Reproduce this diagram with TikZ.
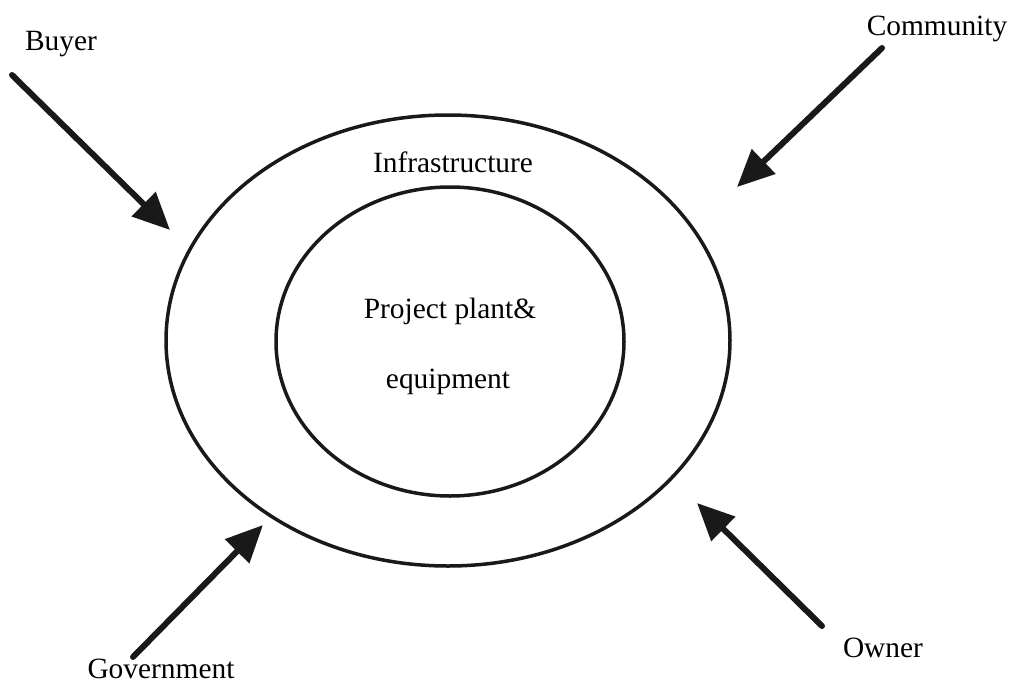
\documentclass[tikz,border=0pt]{standalone}
\usepackage{fontspec}
\setmainfont{Liberation Serif}
\usetikzlibrary{arrows.meta}
\begin{document}
\begin{tikzpicture}[x=1pt,y=-1pt,
  ring/.style={draw=black!90, line width=3.5pt},
  label/.style={anchor=base, inner sep=0pt, font=\fontsize{29.4}{35}\selectfont},
  influence/.style={draw=black!90, line width=6pt, line cap=round,
    -{Triangle[length=37pt,width=33pt]}}]
  \useasboundingbox (0,0) rectangle (1013,683);

  % nested zones
  \draw[ring] (448,340.5) ellipse [x radius=282, y radius=225.5];
  \draw[ring] (450,341.5) ellipse [x radius=174, y radius=154.5];

  \node[label] (infra) at (453,172) {Infrastructure};
  \node[label] (plant1) at (450,318) {Project plant\&};
  \node[label] (plant2) at (448,388) {equipment};

  % stakeholders
  \node[label] (buyer) at (61,50) {Buyer};
  \node[label] (community) at (937,35) {Community};
  \node[label] (government) at (161,678) {Government};
  \node[label] (owner) at (883,657) {Owner};

  \coordinate (buyerTail) at (12,75);
  \coordinate (buyerTip) at (170,230);
  \coordinate (communityTail) at (882,48);
  \coordinate (communityTip) at (737,187);
  \coordinate (governmentTail) at (133,657);
  \coordinate (governmentTip) at (263,525);
  \coordinate (ownerTail) at (822,626);
  \coordinate (ownerTip) at (697,503);

  \draw[influence] (buyerTail) -- (buyerTip);
  \draw[influence] (communityTail) -- (communityTip);
  \draw[influence] (governmentTail) -- (governmentTip);
  \draw[influence] (ownerTail) -- (ownerTip);
\end{tikzpicture}
\end{document}
